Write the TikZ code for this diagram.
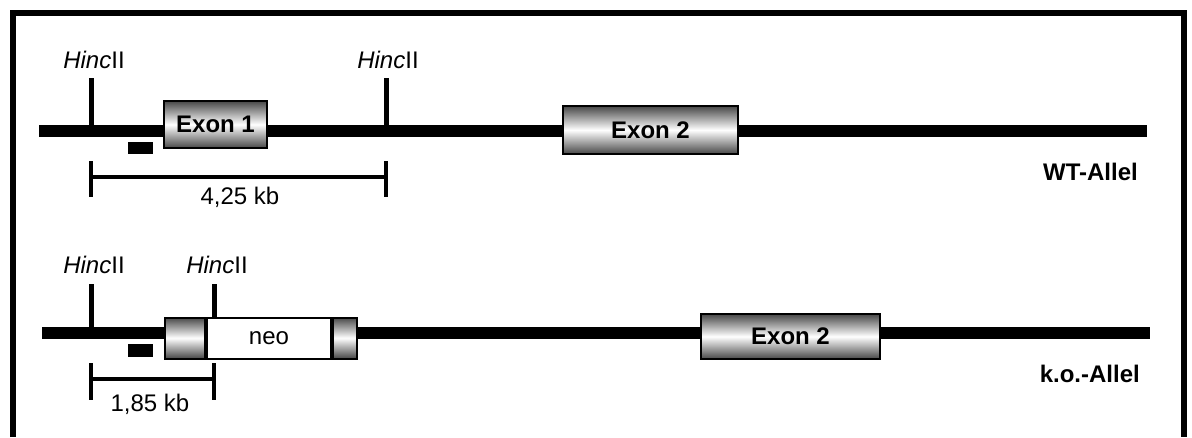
\documentclass[tikz,border=0pt]{standalone}
\usepackage{fontspec}
\setmainfont{Liberation Sans}
\begin{document}
\begin{tikzpicture}[x=1pt,y=-1pt,
  dna/.style={line width=11.5pt},
  site/.style={line width=5pt},
  scalebar/.style={line width=4.5pt},
  shaded/.style={draw=black, line width=2pt, rectangle, inner sep=0pt,
    top color=black!72, bottom color=black!72, middle color=white},
  exonbox/.style={shaded, font=\bfseries\fontsize{24}{28}\selectfont},
  neobox/.style={draw=black, line width=2pt, rectangle, inner sep=0pt, fill=white,
    font=\fontsize{24}{28}\selectfont},
  probe/.style={fill=black, rectangle, inner sep=0pt, minimum width=25pt, minimum height=12pt},
  lbl/.style={inner sep=0pt, font=\fontsize{24}{28}\selectfont},
  lblb/.style={inner sep=0pt, font=\bfseries\fontsize{24}{28}\selectfont}]

\useasboundingbox (0,0) rectangle (1192,437);

% frame (open at the bottom)
\draw[line width=5.5pt] (13,437) -- (13,13) -- (1184,13) -- (1184,437);

% ---------------- wild-type allele ----------------
\coordinate (wtL) at (39,131);
\coordinate (wtR) at (1147,131);
\draw[dna] (wtL) -- (wtR);

\coordinate (ws1b) at (91,131);  \coordinate (ws1t) at (91,78);
\coordinate (ws2b) at (386,131); \coordinate (ws2t) at (386,78);
\draw[site] (ws1t) -- (ws1b);
\draw[site] (ws2t) -- (ws2b);
\node[lbl, anchor=base] (ws1l) at (94,68) {\textit{Hinc}II};
\node[lbl, anchor=base] (ws2l) at (388,68) {\textit{Hinc}II};

\node[exonbox, minimum width=103pt, minimum height=47pt] (ex1) at (215.5,124.5) {Exon 1};
\node[exonbox, minimum width=175pt, minimum height=48pt] (ex2wt) at (650.5,130) {Exon 2};

\node[probe] (wprobe) at (140.5,148) {};

\coordinate (wb1) at (91,177);  \coordinate (wb2) at (386,177);
\coordinate (wb1t) at (91,161); \coordinate (wb1d) at (91,197);
\coordinate (wb2t) at (386,161); \coordinate (wb2d) at (386,197);
\draw[scalebar] (wb1) -- (wb2);
\draw[scalebar] (wb1t) -- (wb1d);
\draw[scalebar] (wb2t) -- (wb2d);
\node[lbl, anchor=base] (wsize) at (240,204) {4,25 kb};

\node[lblb, anchor=base east] (wtname) at (1138,180) {WT-Allel};

% ---------------- knock-out allele ----------------
\coordinate (koL) at (42,333);
\coordinate (koR) at (1150,333);
\draw[dna] (koL) -- (koR);

\node[neobox, minimum width=124pt, minimum height=41pt] (neo) at (269,338) {neo};
\node[shaded, minimum width=40pt, minimum height=41pt, anchor=east] (koA) at (neo.west) {};
\node[shaded, minimum width=24pt, minimum height=41pt, anchor=west] (koB) at (neo.east) {};

\coordinate (ks1b) at (91,333);  \coordinate (ks1t) at (91,284);
\coordinate (ks2t) at (214,284);
\draw[site] (ks1t) -- (ks1b);
\draw[site] (ks2t) -- (ks2t |- neo.north);
\node[lbl, anchor=base] (ks1l) at (94,273) {\textit{Hinc}II};
\node[lbl, anchor=base] (ks2l) at (217,273) {\textit{Hinc}II};

\node[exonbox, minimum width=179pt, minimum height=45pt] (ex2ko) at (790.5,336.5) {Exon 2};

\node[probe, minimum height=13pt] (kprobe) at (140.5,350.5) {};

\coordinate (kb1) at (91,379);  \coordinate (kb2) at (214,379);
\coordinate (kb1t) at (91,363); \coordinate (kb1d) at (91,400);
\coordinate (kb2t) at (214,363); \coordinate (kb2d) at (214,400);
\draw[scalebar] (kb1) -- (kb2);
\draw[scalebar] (kb1t) -- (kb1d);
\draw[scalebar] (kb2t) -- (kb2d);
\node[lbl, anchor=base] (ksize) at (150,411) {1,85 kb};

\node[lblb, anchor=base east] (koname) at (1140,382) {k.o.-Allel};
\end{tikzpicture}
\end{document}
